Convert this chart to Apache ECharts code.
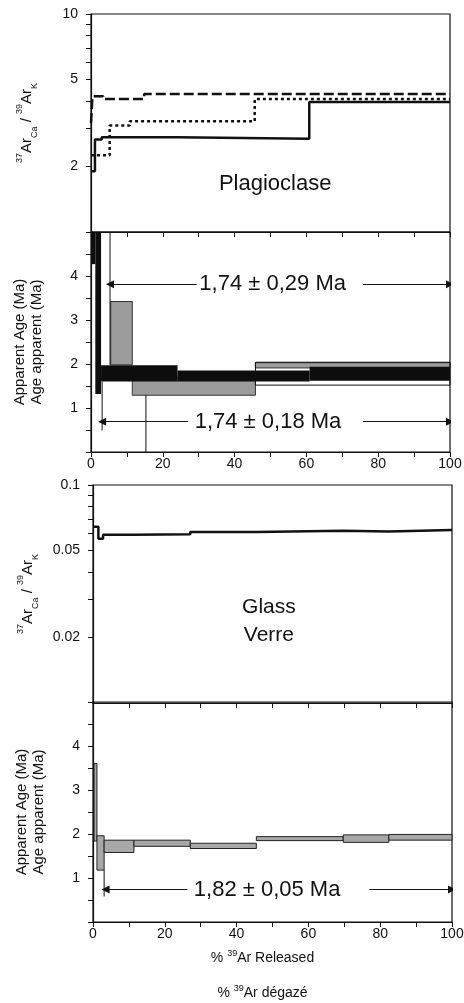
<!DOCTYPE html>
<html>
<head>
<meta charset="utf-8">
<script src="https://cdn.jsdelivr.net/npm/echarts@6/dist/echarts.min.js"></script>
<style>
  html, body { margin: 0; padding: 0; background: #fff; }
  #chart { width: 464px; height: 1003px; }
</style>
</head>
<body>
<div id="chart"></div>
<script>
// tick labels
const xLabelStep = 20;
const plagRatioLabels = [2, 5, 10];
const plagRatioTicks = [2, 3, 4, 5, 6, 7, 8, 9, 10];
const glassRatioLabels = [0.02, 0.05, 0.1];
const glassRatioTicks = [0.02, 0.03, 0.04, 0.05, 0.06, 0.07, 0.08, 0.09, 0.1];
const ageLabels = [1, 2, 3, 4];

// plagioclase 37ArCa/39ArK, steps [start % 39Ar, ratio]
const plagCaKSolid = [[0, 1.9], [1.1, 2.66], [3, 2.72], [24, 2.68], [60.8, 3.95], [100, 3.95]];
const plagCaKDotted = [[0, 2.25], [5.2, 3.08], [10.8, 3.22], [45.6, 4.07], [100, 4.07]];
const plagCaKDashed = [[0, 3.16], [0.4, 4.19], [3.4, 4.07], [14.8, 4.3], [100, 4.3]];

// plagioclase age steps [from %, to %, age min, age max] (Ma)
const plagAgeGray = [[5.5, 11.5, 1.98, 3.42], [11.5, 45.8, 1.29, 1.70], [45.8, 100, 1.91, 2.03]];
const plagAgeBlack = [[0, 1.2, 4.27, 5], [1.2, 2.8, 1.32, 5], [2.8, 24.1, 1.60, 1.97],
  [24.1, 60.9, 1.60, 1.85], [60.9, 100, 1.62, 1.94]];
const plagEnvelope = [[45.8, 100, 1.52, 2.04]];
const plagMarks = [[[5.3, 5], [5.3, 1.98]], [[3.1, 1.60], [3.1, 0.49]], [[15.3, 1.29], [15.3, 0]]];
const plagArrows = [[[29.4, 3.81], [5.3, 3.81]], [[75.8, 3.81], [100, 3.81]],
  [[27, 0.69], [3.1, 0.69]], [[75.8, 0.69], [100, 0.69]]];
const plagPlateaus = [[50.6, 3.81, '1,74 ± 0,29 Ma'], [49.3, 0.69, '1,74 ± 0,18 Ma']];

// glass 37ArCa/39ArK
const glassCaK = [[0, 0.0643], [1.5, 0.0567], [2.8, 0.0591], [11.1, 0.0595], [27.1, 0.0608],
  [45.5, 0.0617], [69.7, 0.0612], [82.4, 0.0622], [100, 0.0622]];

// glass age steps
const glassAge = [[0.3, 1.1, 1.84, 3.6], [1.1, 3.1, 1.18, 1.96], [3.1, 11.4, 1.58, 1.86],
  [11.4, 27.1, 1.72, 1.86], [27.1, 45.5, 1.67, 1.79], [45.5, 69.7, 1.85, 1.94],
  [69.7, 82.4, 1.81, 1.98], [82.4, 100, 1.86, 1.99]];
const glassMarks = [[[3.1, 1.18], [3.1, 0.58]]];
const glassArrows = [[[26.3, 0.74], [3.5, 0.74]], [[77, 0.74], [100, 0.74]]];
const glassPlateaus = [[48.5, 0.74, '1,82 ± 0,05 Ma']];

// panel titles
const plagTitle = [[51.3, 1.66, 'Plagioclase']];
const glassTitle = [[49, 0.0237, 'Glass\nVerre']];

const FONT = "'Liberation Sans', Arial, sans-serif";
const INK = '#111';

const chart = echarts.init(document.getElementById('chart'), null, {renderer: 'canvas'});

const grids = [
  {left: 91, top: 14, width: 359, height: 218},
  {left: 91, top: 232, width: 359, height: 220},
  {left: 93, top: 485, width: 359, height: 218},
  {left: 93, top: 702, width: 359, height: 220}
].map(g => Object.assign(g, {
  show: true, borderColor: INK, borderWidth: 1.2, backgroundColor: 'transparent',
  containLabel: false, outerBoundsMode: 'none'
}));

function xAxis(i, labels, name) {
  return {
    type: 'value', gridIndex: i, min: 0, max: 100, interval: 10,
    axisLine: {lineStyle: {color: INK, width: 1.2}},
    axisTick: {show: true, length: 5, lineStyle: {color: INK, width: 1}},
    splitLine: {show: false},
    axisLabel: {
      show: labels, margin: 5, fontSize: 14, color: INK, fontFamily: FONT,
      formatter: v => (v % xLabelStep === 0 ? String(v) : '')
    },
    name: name || '', nameLocation: 'middle', nameGap: 19, nameMoveOverlap: false,
    nameTextStyle: {
      fontFamily: FONT, color: INK, padding: [0, 20, 0, 0],
      rich: {
        t: {fontSize: 14, lineHeight: 35, fontFamily: FONT, color: INK},
        s: {fontSize: 9, verticalAlign: 'middle', padding: [0, 0, 10, 0], fontFamily: FONT, color: INK}
      }
    }
  };
}

const ratioName = '{s|37}{b|Ar}{u|Ca}{b| / }{s|39}{b|Ar}{u|K}';
const ratioRich = {
  b: {fontSize: 15, lineHeight: 24, fontFamily: FONT, color: INK},
  s: {fontSize: 9, lineHeight: 10, verticalAlign: 'top', fontFamily: FONT, color: INK},
  u: {fontSize: 9, lineHeight: 14, verticalAlign: 'bottom', fontFamily: FONT, color: INK}
};

function ratioAxis(i, min, max, labels, ticks, gap) {
  return {
    type: 'log', logBase: 10, gridIndex: i, min: min, max: max,
    axisLine: {show: true, lineStyle: {color: INK, width: 1.2}},
    axisTick: {show: true, length: 5, customValues: ticks, lineStyle: {color: INK, width: 1}},
    minorTick: {show: false},
    splitLine: {show: false},
    axisLabel: {
      customValues: labels, margin: 13, fontSize: 14, color: INK, fontFamily: FONT,
      formatter: v => String(+(+v).toPrecision(3))
    },
    name: ratioName, nameLocation: 'middle', nameRotate: 90, nameGap: gap, nameMoveOverlap: false,
    nameTextStyle: {rich: ratioRich}
  };
}

function ageAxis(i, gap) {
  return {
    type: 'value', gridIndex: i, min: 0, max: 5, interval: 0.5,
    axisLine: {show: true, lineStyle: {color: INK, width: 1.2}},
    axisTick: {show: true, length: 5, lineStyle: {color: INK, width: 1}},
    splitLine: {show: false},
    axisLabel: {
      margin: 13, fontSize: 14, color: INK, fontFamily: FONT,
      formatter: v => (ageLabels.indexOf(v) >= 0 ? String(v) : '')
    },
    name: 'Apparent Age (Ma)\nAge apparent (Ma)', nameLocation: 'middle', nameRotate: 90,
    nameGap: gap, nameMoveOverlap: false,
    nameTextStyle: {fontSize: 15, lineHeight: 17, fontFamily: FONT, color: INK}
  };
}

function renderBox(params, api) {
  const a = api.coord([api.value(0), api.value(3)]);
  const b = api.coord([api.value(1), api.value(2)]);
  const cs = params.coordSys;
  const shape = echarts.graphic.clipRectByRect(
    {x: a[0], y: a[1], width: b[0] - a[0], height: b[1] - a[1]},
    {x: cs.x, y: cs.y, width: cs.width, height: cs.height});
  return shape && {type: 'rect', shape: shape, style: api.style()};
}

function boxSeries(data, gi, fill, stroke, z) {
  return {
    type: 'custom', xAxisIndex: gi, yAxisIndex: gi, data: data, z: z, silent: true,
    renderItem: renderBox, encode: {x: [0, 1], y: [2, 3]},
    itemStyle: {color: fill, borderColor: stroke || fill, borderWidth: stroke ? 1 : 0}
  };
}

function stepSeries(data, gi, type) {
  return {
    type: 'line', xAxisIndex: gi, yAxisIndex: gi, data: data, step: 'end',
    symbol: 'none', silent: true, z: 3,
    lineStyle: {color: INK, width: 2.5, type: type}
  };
}

function markSeries(segs, gi) {
  return segs.map(s => ({
    type: 'line', xAxisIndex: gi, yAxisIndex: gi, data: s, symbol: 'none', silent: true, z: 4,
    lineStyle: {color: INK, width: 1}
  }));
}

function arrowSeries(segs, gi) {
  return {
    type: 'lines', coordinateSystem: 'cartesian2d', xAxisIndex: gi, yAxisIndex: gi,
    data: segs.map(c => ({coords: c})), symbol: ['none', 'triangle'], symbolSize: 8,
    silent: true, z: 5,
    lineStyle: {color: INK, width: 1, opacity: 1}
  };
}

function textSeries(items, gi, size, lh) {
  return {
    type: 'scatter', xAxisIndex: gi, yAxisIndex: gi, symbolSize: 0, silent: true, z: 6,
    itemStyle: {opacity: 1},
    data: items.map(d => ({value: [d[0], d[1]], name: d[2]})),
    label: {
      show: true, position: 'inside', formatter: '{b}', fontSize: size, lineHeight: lh,
      color: INK, fontFamily: FONT, opacity: 1
    }
  };
}

const bottomName = '{t|% }{s|39}{t|Ar Released}\n{t|% }{s|39}{t|Ar dégazé}';

chart.setOption({
  animation: false,
  backgroundColor: '#fff',
  grid: grids,
  xAxis: [xAxis(0, false), xAxis(1, true), xAxis(2, false), xAxis(3, true, bottomName)],
  yAxis: [
    ratioAxis(0, 1, 10, plagRatioLabels, plagRatioTicks, 52),
    ageAxis(1, 46),
    ratioAxis(2, 0.01, 0.1, glassRatioLabels, glassRatioTicks, 53),
    ageAxis(3, 46)
  ],
  series: [
    stepSeries(plagCaKSolid, 0, 'solid'),
    stepSeries(plagCaKDotted, 0, [3, 3]),
    stepSeries(plagCaKDashed, 0, [10, 4]),
    textSeries(plagTitle, 0, 22, 26),

    boxSeries(plagAgeGray, 1, '#9c9c9c', '#333', 2),
    boxSeries(plagAgeBlack, 1, '#0d0d0d', null, 3),
    boxSeries(plagEnvelope, 1, 'rgba(0,0,0,0)', INK, 4),
    ...markSeries(plagMarks, 1),
    arrowSeries(plagArrows, 1),
    textSeries(plagPlateaus, 1, 22, 24),

    stepSeries(glassCaK, 2, 'solid'),
    textSeries(glassTitle, 2, 21, 28),

    boxSeries(glassAge, 3, '#a8a8a8', '#222', 2),
    ...markSeries(glassMarks, 3),
    arrowSeries(glassArrows, 3),
    textSeries(glassPlateaus, 3, 22, 24)
  ]
});
</script>
</body>
</html>
